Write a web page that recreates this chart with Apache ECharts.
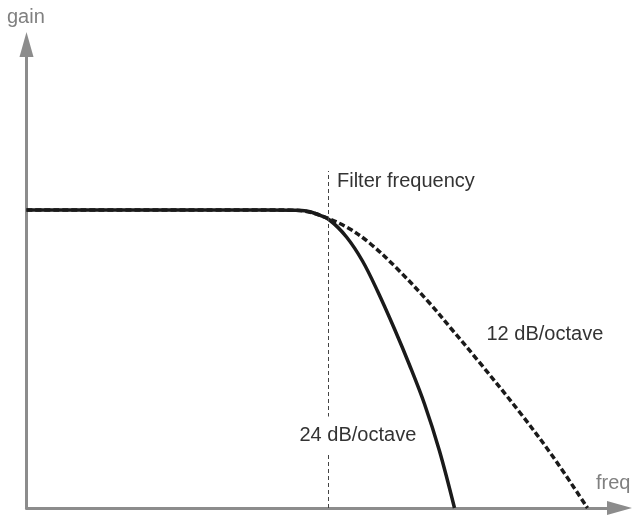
<!DOCTYPE html>
<html>
<head>
<meta charset="utf-8">
<script src="https://cdn.jsdelivr.net/npm/echarts@6/dist/echarts.min.js"></script>
<style>
html,body{margin:0;padding:0;background:#fff;}
#chart{width:632px;height:515px;}
</style>
</head>
<body>
<div id="chart"></div>
<script>
// Curve readings (x: frequency units, y: gain units)
const curve24 = [
  [0, 298], [240, 298], [266, 297.8], [280, 297], [290, 294], [303, 288], [320, 271],
  [336, 247], [351, 217], [368, 179], [383, 143], [398, 104], [413, 57], [428, 0]
];
const curve12 = [
  [0, 298], [240, 298], [266, 297.8], [280, 296.5], [293, 293], [320, 281], [343, 265],
  [371, 239], [403, 205], [425, 179], [451, 148], [493, 96],
  [526, 52], [561, 0]
];
const cutoffX = 301.5;
const cutoffTop = 337;
const labels = [
  { text: 'Filter frequency', x: 310.5, y: 326.5, masked: false },
  { text: '24 dB/octave', x: 271, y: 72.5, masked: true },
  { text: '12 dB/octave', x: 460, y: 173.5, masked: false }
];
const axisNames = { y: 'gain', x: 'freq' };

const FONT = "'Liberation Sans', Arial, Helvetica, sans-serif";
const chart = echarts.init(document.getElementById('chart'), null, { renderer: 'canvas' });

const axisCommon = {
  type: 'value',
  min: 0,
  axisLine: {
    show: true,
    onZero: false,
    symbol: ['none', 'triangle'],
    symbolSize: [14, 25],
    lineStyle: { color: '#8c8c8c', width: 3 }
  },
  axisTick: { show: false },
  axisLabel: { show: false },
  splitLine: { show: false }
};

chart.setOption({
  animation: false,
  backgroundColor: '#ffffff',
  grid: { left: 26.5, right: 12.5, top: 44.5, bottom: 7, containLabel: false },
  xAxis: Object.assign({}, axisCommon, { max: 593 }),
  yAxis: Object.assign({}, axisCommon, { max: 463.5 }),
  graphic: [
    { type: 'text', left: 7, top: 7, style: { text: axisNames.y, font: '20px ' + FONT, fill: '#808080' } },
    { type: 'text', left: 596, top: 473, style: { text: axisNames.x, font: '20px ' + FONT, fill: '#808080' } }
  ],
  series: [
    {
      type: 'line',
      data: curve12,
      smooth: 0.35,
      showSymbol: false,
      symbol: 'none',
      lineStyle: { color: '#1a1a1a', width: 3.5, type: [6, 3] },
      z: 2,
      markLine: {
        silent: true,
        symbol: 'none',
        label: { show: false },
        lineStyle: { color: '#444', width: 1, type: [4, 3] },
        data: [[{ coord: [cutoffX, 0] }, { coord: [cutoffX, cutoffTop] }]]
      },
      markPoint: {
        silent: true,
        symbol: 'circle',
        symbolSize: 0,
        z: 5,
        label: {
          show: true,
          position: 'right',
          distance: 0,
          color: '#333',
          fontSize: 20,
          fontFamily: FONT,
          formatter: p => p.name
        },
        data: labels.map(l => ({
          name: l.text,
          coord: [l.x, l.y],
          label: l.masked ? { backgroundColor: '#ffffff', padding: [6, 2, 12, 2] } : {}
        }))
      }
    },
    {
      type: 'line',
      data: curve24,
      smooth: 0.35,
      showSymbol: false,
      symbol: 'none',
      lineStyle: { color: '#1a1a1a', width: 3.5 },
      z: 3
    }
  ]
});
</script>
</body>
</html>
